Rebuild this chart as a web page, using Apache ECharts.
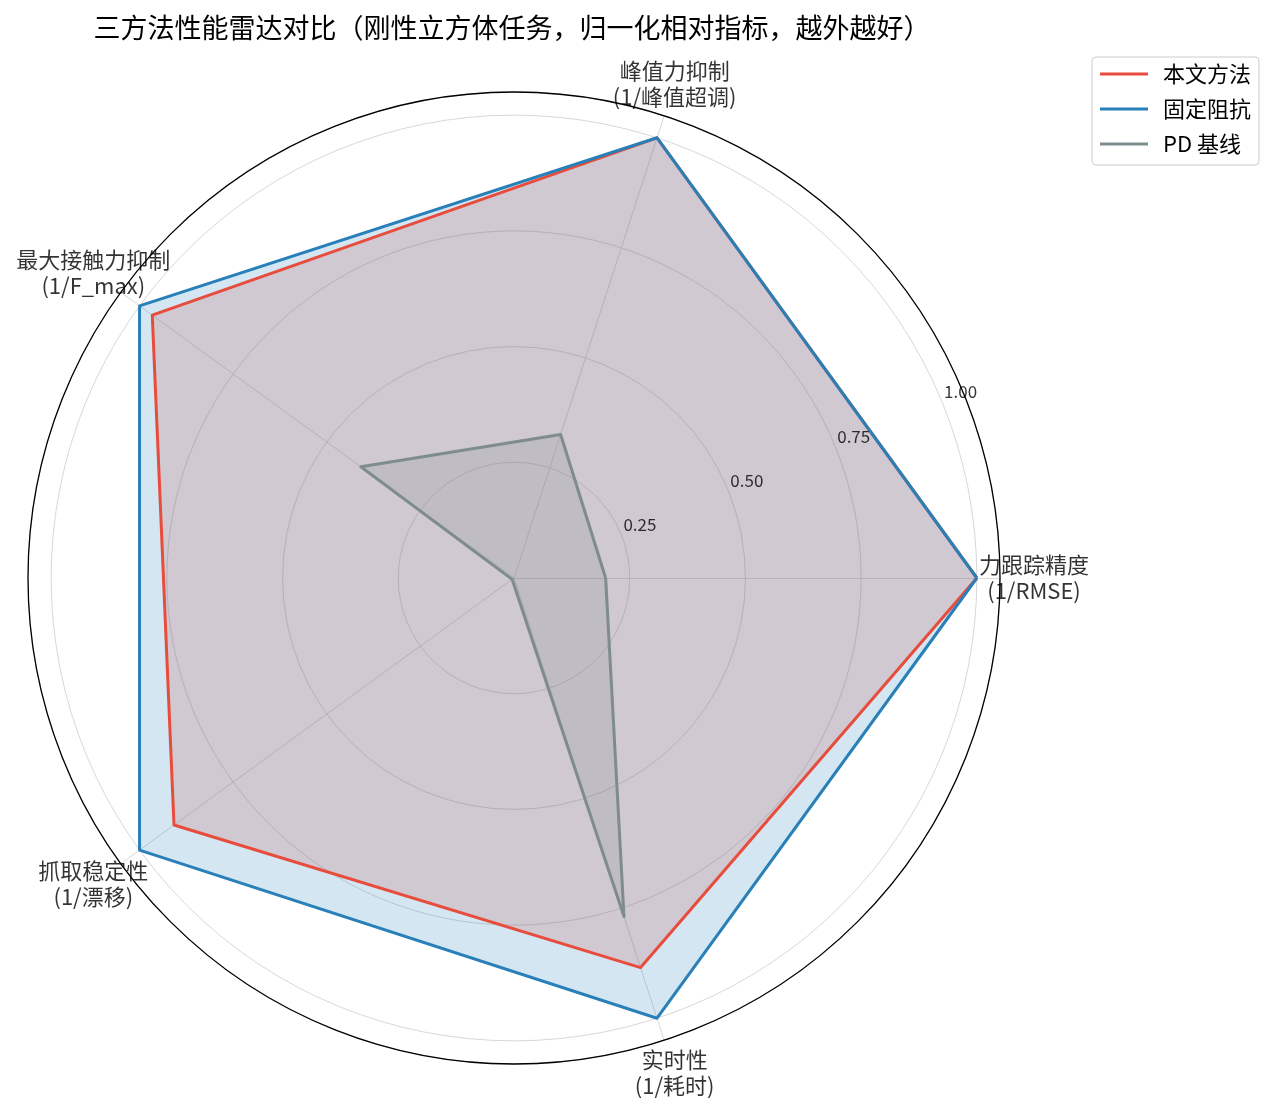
<!DOCTYPE html>
<html>
<head>
<meta charset="utf-8">
<script src="https://cdn.jsdelivr.net/npm/echarts@6/dist/echarts.min.js"></script>
<style>
html,body{margin:0;padding:0;background:#fff;}
#chart{width:1280px;height:1109px;}
</style>
</head>
<body>
<div id="chart"></div>
<script>
// ---- data ----
const axisNames = ['力跟踪精度\n(1/RMSE)', '峰值力抑制\n(1/峰值超调)', '最大接触力抑制\n(1/F_max)', '抓取稳定性\n(1/漂移)', '实时性\n(1/耗时)'];
const seriesNames = ['本文方法', '固定阻抗', 'PD 基线'];
const oursValues = [1.0, 1.0, 0.966, 0.908, 0.885];
const fixedValues = [1.0, 1.0, 1.0, 1.0, 1.0];
const pdValues = [0.198, 0.326, 0.409, 0.005, 0.769];
const ringTicks = [0.25, 0.5, 0.75, 1.0];
const ringTickLabels = ['0.25', '0.50', '0.75', '1.00'];
const colors = ['#e74c3c', '#2980b9', '#7f8c8d'];

const FONT = '"Noto Sans CJK SC", "Noto Sans", sans-serif';
const CX = 514, CY = 578, R = 486, LABEL_R = 520;
const RMAX = 1.05;
const step = 360 / axisNames.length;
const allValues = [oursValues, fixedValues, pdValues];

const chart = echarts.init(document.getElementById('chart'), null, {renderer: 'canvas'});

const option = {
  backgroundColor: '#ffffff',
  animation: false,
  title: {
    text: '三方法性能雷达对比（刚性立方体任务，归一化相对指标，越外越好）',
    left: 507, top: 9, textAlign: 'center',
    textStyle: {fontFamily: FONT, fontSize: 27, fontWeight: 'normal', color: '#000'}
  },
  legend: {
    left: 1092, top: 57, orient: 'vertical',
    data: seriesNames.map(n => ({name: n, icon: 'rect'})),
    itemWidth: 48, itemHeight: 3, itemGap: 11,
    padding: [5, 8, 9, 8],
    backgroundColor: '#fff', borderColor: '#cccccc', borderWidth: 1, borderRadius: 4,
    textStyle: {fontFamily: FONT, fontSize: 22, lineHeight: 24, color: '#000', padding: [0, 0, 0, 10]}
  },
  polar: [
    {center: [CX, CY], radius: R},
    {center: [CX, CY], radius: LABEL_R}
  ],
  angleAxis: [
    {polarIndex: 0, type: 'value', min: 0, max: 360, startAngle: 0, clockwise: false, z: 5,
     axisLine: {show: true, lineStyle: {color: '#000', width: 1.3}},
     axisTick: {show: false}, axisLabel: {show: false}, splitLine: {show: false}},
    {polarIndex: 1, type: 'value', min: 0, max: 360, startAngle: 0, clockwise: false,
     axisLine: {show: false}, axisTick: {show: false}, axisLabel: {show: false}, splitLine: {show: false}}
  ],
  radiusAxis: [
    {polarIndex: 0, type: 'value', min: 0, max: RMAX, interval: 0.25,
     axisLine: {show: false}, axisTick: {show: false}, axisLabel: {show: false},
     splitLine: {show: true, lineStyle: {color: '#d8d8d8', width: 1}}},
    {polarIndex: 1, type: 'value', min: 0, max: 1,
     axisLine: {show: false}, axisTick: {show: false}, axisLabel: {show: false}, splitLine: {show: false}}
  ],
  radar: {
    center: [CX, CY], radius: R, startAngle: 0, shape: 'circle', splitNumber: 1,
    indicator: axisNames.map(n => ({name: n, min: 0, max: RMAX})),
    axisName: {show: false},
    axisLine: {show: true, lineStyle: {color: '#d9d9d9', width: 1}},
    splitLine: {show: false}, splitArea: {show: false}, axisTick: {show: false}, axisLabel: {show: false}
  },
  series: [
    {
      type: 'radar', name: 'lines', z: 4, symbol: 'none', silent: true,
      data: seriesNames.map((n, i) => ({
        name: n, value: allValues[i],
        itemStyle: {color: colors[i]},
        lineStyle: {color: colors[i], width: 3}
      }))
    },
    {
      type: 'radar', name: 'areas', z: 2, symbol: 'none', silent: true,
      data: seriesNames.map((n, i) => ({
        name: n, value: allValues[i],
        itemStyle: {color: colors[i]},
        lineStyle: {width: 0, opacity: 0},
        areaStyle: {color: colors[i], opacity: 0.2}
      }))
    },
    {
      type: 'scatter', coordinateSystem: 'polar', polarIndex: 1, silent: true, clip: false, z: 6,
      symbolSize: 1, itemStyle: {color: 'transparent'},
      data: axisNames.map((n, i) => ({name: n, value: [1, i * step]})),
      label: {show: true, position: 'inside', formatter: '{b}',
              fontFamily: FONT, fontSize: 22, lineHeight: 26, color: '#000', align: 'center', verticalAlign: 'middle'}
    },
    {
      type: 'scatter', coordinateSystem: 'polar', polarIndex: 0, silent: true, clip: false, z: 6,
      symbolSize: 1, itemStyle: {color: 'transparent'},
      data: ringTicks.map((v, i) => ({name: ringTickLabels[i], value: [v, 22.5]})),
      label: {show: true, position: 'inside', formatter: '{b}', offset: [19, -9],
              fontFamily: FONT, fontSize: 17, color: '#000'}
    }
  ]
};
chart.setOption(option);
</script>
</body>
</html>
